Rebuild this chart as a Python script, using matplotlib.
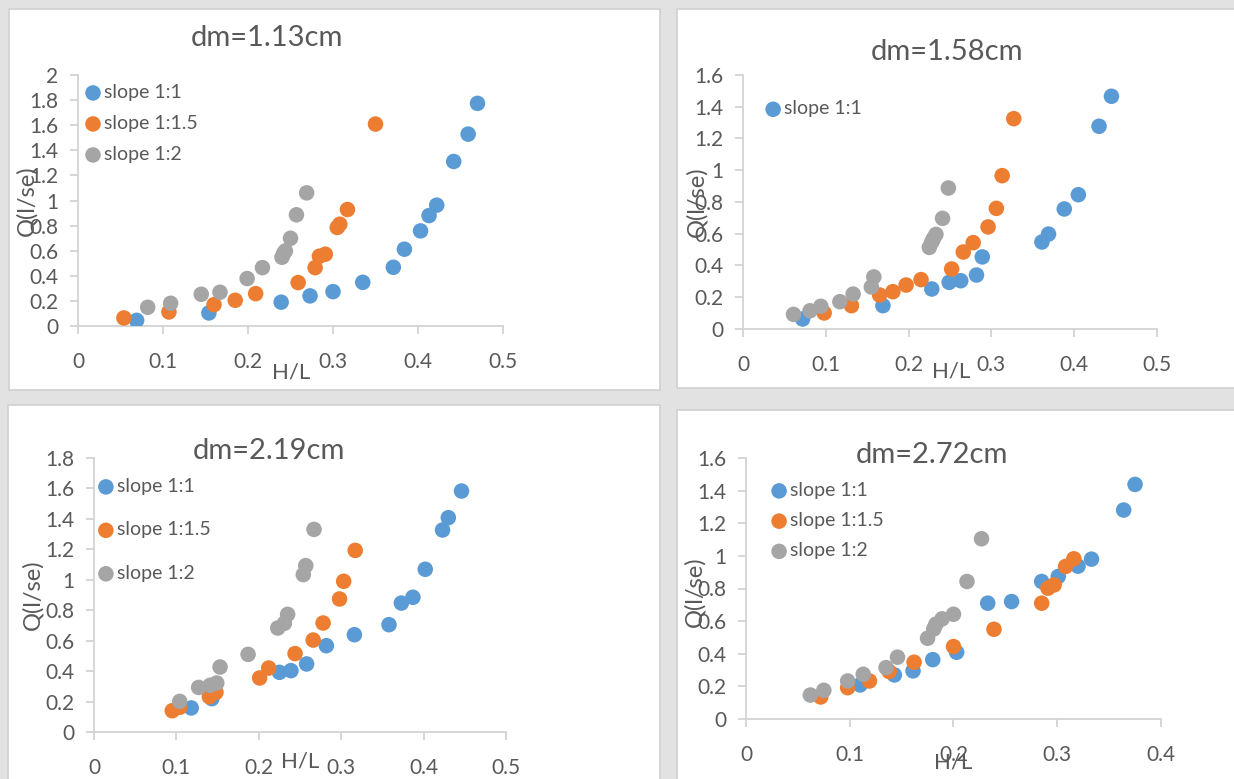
import matplotlib
matplotlib.use("Agg")
import matplotlib.pyplot as plt
from matplotlib.patches import Rectangle

plt.rcParams['font.family'] = ['Lato', 'DejaVu Sans']

# ============================================================
# DATA
# ============================================================
# dm = 1.13 cm
p1_s1_x = [0.069, 0.154, 0.239, 0.273, 0.300, 0.335, 0.371, 0.384, 0.403, 0.413, 0.422, 0.442, 0.459, 0.470]
p1_s1_y = [0.045, 0.104, 0.190, 0.240, 0.274, 0.348, 0.468, 0.612, 0.758, 0.880, 0.963, 1.311, 1.529, 1.774]
p1_s15_x = [0.054, 0.107, 0.160, 0.185, 0.209, 0.259, 0.279, 0.284, 0.291, 0.305, 0.308, 0.317, 0.350]
p1_s15_y = [0.064, 0.112, 0.170, 0.205, 0.258, 0.346, 0.465, 0.556, 0.572, 0.785, 0.811, 0.928, 1.609]
p1_s2_x = [0.082, 0.109, 0.145, 0.167, 0.199, 0.217, 0.240, 0.242, 0.244, 0.250, 0.257, 0.269]
p1_s2_y = [0.149, 0.181, 0.253, 0.269, 0.378, 0.465, 0.548, 0.580, 0.598, 0.699, 0.886, 1.061]

# dm = 1.58 cm
p2_s1_x = [0.072, 0.169, 0.228, 0.249, 0.263, 0.282, 0.289, 0.361, 0.369, 0.388, 0.405, 0.430, 0.445]
p2_s1_y = [0.063, 0.147, 0.252, 0.294, 0.304, 0.340, 0.454, 0.548, 0.598, 0.756, 0.846, 1.277, 1.466]
p2_s15_x = [0.098, 0.131, 0.165, 0.181, 0.197, 0.215, 0.252, 0.266, 0.278, 0.296, 0.306, 0.313, 0.327]
p2_s15_y = [0.101, 0.147, 0.214, 0.235, 0.277, 0.311, 0.378, 0.485, 0.544, 0.643, 0.760, 0.966, 1.325]
p2_s2_x = [0.061, 0.081, 0.094, 0.117, 0.133, 0.155, 0.158, 0.225, 0.228, 0.230, 0.233, 0.241, 0.248]
p2_s2_y = [0.092, 0.115, 0.143, 0.172, 0.220, 0.265, 0.328, 0.514, 0.548, 0.569, 0.596, 0.697, 0.888]

# dm = 2.19 cm
p3_s1_x = [0.118, 0.143, 0.225, 0.239, 0.258, 0.282, 0.316, 0.358, 0.373, 0.387, 0.402, 0.423, 0.430, 0.446]
p3_s1_y = [0.158, 0.219, 0.392, 0.403, 0.447, 0.567, 0.639, 0.705, 0.847, 0.885, 1.069, 1.327, 1.408, 1.583]
p3_s15_x = [0.095, 0.104, 0.140, 0.148, 0.201, 0.212, 0.244, 0.266, 0.278, 0.298, 0.303, 0.317]
p3_s15_y = [0.140, 0.162, 0.232, 0.261, 0.355, 0.420, 0.515, 0.604, 0.716, 0.874, 0.990, 1.193]
p3_s2_x = [0.104, 0.127, 0.141, 0.149, 0.153, 0.187, 0.223, 0.231, 0.235, 0.254, 0.257, 0.267]
p3_s2_y = [0.201, 0.293, 0.307, 0.322, 0.427, 0.510, 0.683, 0.714, 0.773, 1.034, 1.093, 1.331]

# dm = 2.72 cm
p4_s1_x = [0.110, 0.143, 0.161, 0.180, 0.203, 0.233, 0.256, 0.285, 0.301, 0.320, 0.333, 0.364, 0.375]
p4_s1_y = [0.209, 0.270, 0.295, 0.364, 0.409, 0.710, 0.720, 0.843, 0.874, 0.937, 0.980, 1.281, 1.438]
p4_s15_x = [0.072, 0.098, 0.119, 0.138, 0.162, 0.200, 0.239, 0.285, 0.291, 0.297, 0.308, 0.316]
p4_s15_y = [0.135, 0.192, 0.233, 0.291, 0.348, 0.444, 0.550, 0.710, 0.802, 0.822, 0.935, 0.982]
p4_s2_x = [0.062, 0.075, 0.098, 0.113, 0.135, 0.146, 0.175, 0.181, 0.183, 0.189, 0.200, 0.213, 0.227]
p4_s2_y = [0.147, 0.176, 0.233, 0.274, 0.315, 0.379, 0.495, 0.552, 0.581, 0.614, 0.642, 0.843, 1.105]

TITLES = ["dm=1.13cm", "dm=1.58cm", "dm=2.19cm", "dm=2.72cm"]
LABELS = ["slope 1:1", "slope 1:1.5", "slope 1:2"]
COLORS = ["#5B9BD5", "#ED7D31", "#A5A5A5"]
TXT = "#595959"

W, H = 1234, 779

# pixel layout: frame box, axes box, y range, xmax, title/label/legend spots
panels = [
    dict(frame=(9, 9, 660, 390), ax=(78, 75, 503, 326), ymax=2.0, xmax=0.5,
         title=(0.445, 1.147), ylab=(-0.12, 0.50), xlab=(0.501, -0.187),
         leg=(0.017, 0.964), lsp=0.72, nleg=3,
         data=[(p1_s1_x, p1_s1_y), (p1_s15_x, p1_s15_y), (p1_s2_x, p1_s2_y)]),
    dict(frame=(677, 9, 1240, 388), ax=(743, 75, 1157, 329), ymax=1.6, xmax=0.5,
         title=(0.493, 1.09), ylab=(-0.111, 0.50), xlab=(0.502, -0.169),
         leg=(0.054, 0.90), lsp=0.45, nleg=1,
         data=[(p2_s1_x, p2_s1_y), (p2_s15_x, p2_s15_y), (p2_s2_x, p2_s2_y)]),
    dict(frame=(8, 405, 660, 790), ax=(94, 458, 506, 732), ymax=1.8, xmax=0.5,
         title=(0.425, 1.026), ylab=(-0.148, 0.50), xlab=(0.50, -0.109),
         leg=(0.010, 0.927), lsp=1.36, nleg=3,
         data=[(p3_s1_x, p3_s1_y), (p3_s15_x, p3_s15_y), (p3_s2_x, p3_s2_y)]),
    dict(frame=(677, 410, 1240, 790), ax=(746, 458, 1161, 719), ymax=1.6, xmax=0.4,
         title=(0.448, 1.011), ylab=(-0.123, 0.487), xlab=(0.499, -0.165),
         leg=(0.061, 0.908), lsp=0.68, nleg=3,
         data=[(p4_s1_x, p4_s1_y), (p4_s15_x, p4_s15_y), (p4_s2_x, p4_s2_y)]),
]

fig = plt.figure(figsize=(W / 100, H / 100), dpi=100, facecolor="#e2e2e2")

for i, p in enumerate(panels):
    fx0, fy0, fx1, fy1 = p["frame"]
    fig.patches.append(Rectangle((fx0 / W, 1 - fy1 / H), (fx1 - fx0) / W, (fy1 - fy0) / H,
                                 transform=fig.transFigure, facecolor="white",
                                 edgecolor="#d0d0d0", lw=1.2, zorder=-5))

    x0, y0, x1, y1 = p["ax"]
    ax = fig.add_axes([x0 / W, 1 - y1 / H, (x1 - x0) / W, (y1 - y0) / H])
    ax.set_facecolor("none")

    handles = []
    for (xs, ys), c, lab in zip(p["data"], COLORS, LABELS):
        h = ax.scatter(xs, ys, s=125, color=c, label=lab, edgecolors="none", zorder=3)
        handles.append(h)

    ax.set_xlim(0, p["xmax"])
    ax.set_ylim(0, p["ymax"])
    ax.set_xticks([round(v * 0.1, 1) for v in range(int(round(p["xmax"] * 10)) + 1)])
    ax.set_yticks([round(v * 0.2, 1) for v in range(int(round(p["ymax"] * 5)) + 1)])
    ax.xaxis.set_major_formatter(plt.FuncFormatter(lambda v, _: f"{v:g}"))
    ax.yaxis.set_major_formatter(plt.FuncFormatter(lambda v, _: f"{v:g}"))

    for s in ["top", "right"]:
        ax.spines[s].set_visible(False)
    for s in ["left", "bottom"]:
        ax.spines[s].set_color("#d3d3d3")
        ax.spines[s].set_linewidth(1.3)
    ax.tick_params(axis="both", direction="out", length=6, width=1.3, color="#d3d3d3",
                   labelcolor=TXT, labelsize=15)
    ax.tick_params(axis="x", pad=13)
    ax.tick_params(axis="y", pad=8)

    ax.set_title(TITLES[i], fontsize=21, color=TXT, x=p["title"][0], y=p["title"][1],
                 va="center", pad=0)
    ax.set_xlabel("H/L", fontsize=16, color=TXT, va="center")
    ax.xaxis.set_label_coords(*p["xlab"])
    ax.set_ylabel("Q(l/se)", fontsize=17, color=TXT, va="center")
    ax.yaxis.set_label_coords(*p["ylab"])

    leg = ax.legend(handles=handles[:p["nleg"]], loc="upper left", bbox_to_anchor=p["leg"],
                    frameon=False, fontsize=14, handletextpad=0.15, handlelength=0.8,
                    borderpad=0, borderaxespad=0, labelspacing=p["lsp"], scatterpoints=1)
    for t in leg.get_texts():
        t.set_color(TXT)

fig.savefig("out.png", dpi=100, facecolor=fig.get_facecolor())
